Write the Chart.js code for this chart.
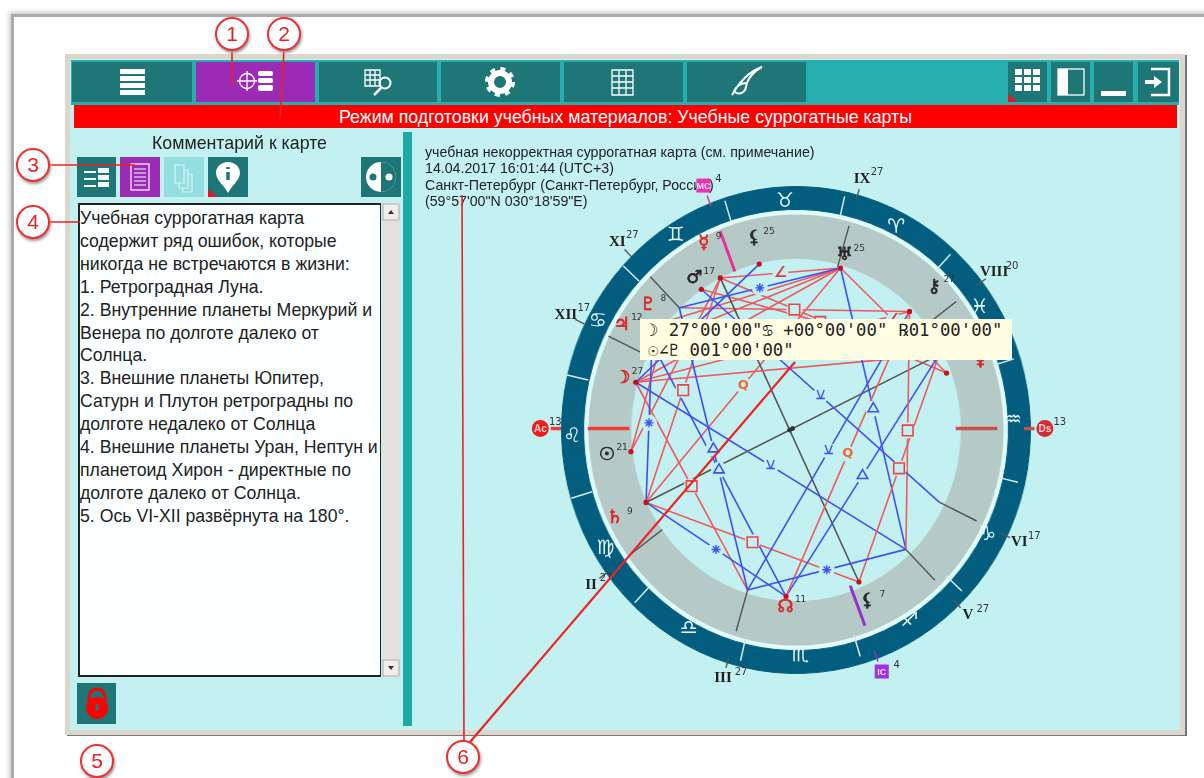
<!DOCTYPE html>
<html lang="ru">
<head>
<meta charset="utf-8">
<title>Учебные суррогатные карты</title>
<script src="https://cdn.jsdelivr.net/npm/chart.js@4"></script>
<style>
  html, body { margin: 0; padding: 0; background: #fff; overflow: hidden; }
  #page { position: relative; width: 1204px; height: 778px; overflow: hidden; filter: blur(0.6px); font-family: "Liberation Sans", sans-serif; color: #222; }
  #page > * { position: absolute; }
  #frame { left: 11px; top: 14px; width: 1300px; height: 900px; border-left: 3px solid #aaa; border-top: 3px solid #aaa; box-shadow: -2px -2px 5px #ccc; }
  #window { left: 65px; top: 54px; width: 1110px; height: 671px; border: 5px solid #dcd6cd; background: #c3f1f1; box-shadow: 2px 1px 0 #777; }
  #chrome, #callouts { left: 0; top: 0; }
  #banner { left: 74px; top: 105px; width: 1103px; height: 23px; background: #ff0000; color: #fff; text-align: center; font-size: 17.8px; line-height: 24px; white-space: nowrap; }
  #title { left: 77px; top: 134px; width: 325px; text-align: center; font-size: 17.8px; line-height: 18px; }
  #note { left: 78px; top: 203px; width: 300px; height: 468px; background: #fbffff; border: 1px solid #222; border-width: 2px 1px 2px 2px; font-size: 17.7px; line-height: 22.9px; padding: 2px 0 0 0; white-space: nowrap; }
  #meta { left: 425px; top: 144px; font-size: 14.2px; line-height: 16.4px; white-space: nowrap; }
  #wheel { left: 551.5px; top: 185.5px; width: 488px; height: 488px; transform: scaleX(0.963); }
  #overlay { left: 0; top: 0; }
  #hint { left: 640px; top: 319px; width: 372px; height: 41px; background: #fffde2; font-family: "DejaVu Sans Mono", monospace; font-size: 17.3px; line-height: 20px; padding: 1px 0 0 8px; box-sizing: border-box; white-space: pre; color: #222; }
  .num { width: 30px; height: 30px; border: 2px solid #f03030; border-radius: 50%; background: #fff; color: #e82020; text-align: center; font-size: 21px; line-height: 30px; box-shadow: 1px 2px 3px #999; }
</style>
</head>
<body>
<div id="page">
  <div id="frame"></div>
  <div id="window"></div>
  <svg id="chrome" width="1204" height="778">
    <rect x="71" y="60" width="1108" height="45" fill="#27aeae"/>
    <g fill="#1e7676">
      <rect x="72" y="62" width="120" height="40"/><rect x="319" y="62" width="118" height="40"/>
      <rect x="441" y="62" width="119" height="40"/><rect x="564" y="62" width="119" height="40"/><rect x="687" y="62" width="119" height="40"/>
      <rect x="1008" y="62" width="39" height="40"/><rect x="1051" y="62" width="39" height="40"/><rect x="1094" y="62" width="39" height="40"/><rect x="1138" y="62" width="41" height="40"/>
      <rect x="77" y="157" width="39" height="40"/><rect x="208" y="157" width="40" height="40"/><rect x="361" y="157" width="40" height="40"/><rect x="77" y="683" width="39" height="41"/>
    </g>
    <rect x="196" y="62" width="119" height="40" fill="#9b2bb5"/>
    <rect x="120" y="157" width="40" height="40" fill="#9b2bb5"/>
    <rect x="164" y="157" width="40" height="40" fill="#93dede"/>
    <rect x="403" y="132" width="9" height="594" fill="#1fa9a5"/>
    <g fill="#fff">
      <rect x="120" y="69" width="25" height="5"/><rect x="120" y="76" width="25" height="5"/><rect x="120" y="83" width="25" height="5"/><rect x="120" y="90" width="25" height="5"/>
      <rect x="258" y="71" width="15" height="5" rx="2"/><rect x="258" y="78" width="15" height="5" rx="2"/><rect x="258" y="85" width="15" height="6" rx="2"/>
    </g>
    <g fill="none" stroke="#fff" stroke-width="1.3">
      <circle cx="247" cy="81" r="7.5"/><path d="M237 81h20M247 71v20"/>
      <path d="M365 70h15v16h-15zM365 75h15M365 80h15M370 70v16M375 70v16"/>
      <circle cx="385" cy="83" r="5.5" stroke-width="2"/><path d="M381 88l-7 7" stroke-width="2.5"/>
      <path d="M612 70h21v25h-21zM612 76h21M612 82h21M612 88h21M619 70v25M626 70v25"/>
      <rect x="1058" y="69" width="26" height="26"/>
    </g>
    <circle cx="500" cy="82" r="9" fill="none" stroke="#fff" stroke-width="6"/>
    <circle cx="500" cy="82" r="13" fill="none" stroke="#fff" stroke-width="4" stroke-dasharray="5 5.2"/>
    <path d="M732 95c8-14 18-24 30-28c-8 4-15 12-16 20c-1 6-8 9-12 4c2-5 8-8 12-8" fill="none" stroke="#fff" stroke-width="2"/>
    <g fill="#fff">
      <rect x="1015" y="69" width="7" height="6"/><rect x="1024" y="69" width="7" height="6"/><rect x="1033" y="69" width="7" height="6"/>
      <rect x="1015" y="77" width="7" height="6"/><rect x="1024" y="77" width="7" height="6"/><rect x="1033" y="77" width="7" height="6"/>
      <rect x="1015" y="85" width="7" height="6"/><rect x="1024" y="85" width="7" height="6"/><rect x="1033" y="85" width="7" height="6"/>
      <rect x="1058" y="69" width="10" height="26"/>
      <rect x="1101" y="91" width="25" height="5"/>
      <path d="M1145 80h9v-4l8 6l-8 6v-4h-9z"/>
    </g>
    <path d="M1151 69h18v26h-18" fill="none" stroke="#fff" stroke-width="2.5"/>
    <path d="M1008 94l9 8h-9zM208 189l9 8h-9z" fill="#f01020"/>
    <g fill="#fff" opacity="0.95">
      <rect x="84" y="171" width="12" height="2"/><rect x="84" y="178" width="12" height="2"/><rect x="84" y="185" width="12" height="2"/>
      <rect x="98" y="168" width="11" height="5"/><rect x="98" y="175" width="11" height="5"/><rect x="98" y="182" width="11" height="5"/>
    </g>
    <g fill="none" stroke="#fff" stroke-width="1.2">
      <rect x="131" y="164" width="18" height="26"/><path d="M134 169h12M134 173h12M134 177h12M134 181h12M134 185h12"/>
      <path d="M175 165h9v18h-9zM184 170h4v18h-9v-5M188 174h4v18h-9v-4" stroke="#d9f5f5"/>
    </g>
    <path d="M228 162c-7 0-12 5-12 11c0 7 8 12 12 20c4-8 12-13 12-20c0-6-5-11-12-11z" fill="#fff"/>
    <path d="M228 167v2M228 172v8" stroke="#1e7676" stroke-width="3.5" fill="none"/>
    <circle cx="381" cy="177" r="15" fill="#fff"/>
    <path d="M381 162a15 15 0 0 1 0 30z" fill="#1e7676"/>
    <circle cx="373" cy="177" r="3.5" fill="#1e7676"/><circle cx="389" cy="177" r="3.5" fill="#fff"/>
    <path d="M89 703v-6a8 8 0 0 1 16 0v6" fill="none" stroke="#ff0000" stroke-width="3"/>
    <circle cx="97" cy="708" r="11" fill="#ff0000"/>
    <path d="M97 704v7" stroke="#1e7676" stroke-width="3"/>
    <rect x="382" y="203" width="18" height="475" fill="#e4e2dc"/>
    <rect x="383" y="204" width="16" height="16" fill="#efeeea" stroke="#888" stroke-width="0.6"/>
    <rect x="383" y="660" width="16" height="16" fill="#efeeea" stroke="#888" stroke-width="0.6"/>
    <path d="M388 214l3-4l3 4zM388 666l3 4l3-4z" fill="#333"/>
  </svg>
  <div id="banner">Режим подготовки учебных материалов: Учебные суррогатные карты</div>
  <div id="title">Комментарий к карте</div>
  <div id="note">Учебная суррогатная карта<br>содержит ряд ошибок, которые<br>никогда не встречаются в жизни:<br>1. Ретроградная Луна.<br>2. Внутренние планеты Меркурий и<br>Венера по долготе далеко от<br>Солнца.<br>3. Внешние планеты Юпитер,<br>Сатурн и Плутон ретроградны по<br>долготе недалеко от Солнца<br>4. Внешние планеты Уран, Нептун и<br>планетоид Хирон - директные по<br>долготе далеко от Солнца.<br>5. Ось VI-XII развёрнута на 180°.</div>
  <div id="meta">учебная некорректная суррогатная карта (см. примечание)<br>14.04.2017 16:01:44 (UTC+3)<br>Санкт-Петербург (Санкт-Петербург, Россия)<br>(59°57'00"N 030°18'59"E)</div>
  <div id="wheel"><canvas id="wheelRings" width="488" height="488"></canvas></div>
  <canvas id="overlay" width="1204" height="778"></canvas>
  <div id="hint">☽ 27°00'00"♋︎ +00°00'00" ℞01°00'00"
☉∠♇ 001°00'00"</div>
  <svg id="callouts" width="1204" height="778">
    <g fill="none" stroke="#ee2222" stroke-width="1.6">
      <path d="M232 50L232 86M284 50L280 118M50 165L135 165M50 222L80 222M464 742L462 195"/>
      <path d="M470 742L795 362" stroke-width="2.2"/>
    </g>
  </svg>
  <div class="num" style="left:215px;top:17px">1</div>
  <div class="num" style="left:267px;top:17px">2</div>
  <div class="num" style="left:16px;top:148px">3</div>
  <div class="num" style="left:16px;top:205px">4</div>
  <div class="num" style="left:80px;top:744px">5</div>
  <div class="num" style="left:446px;top:740px">6</div>
</div>

<script>
// Значения. Углы - экранные, градусы против часовой от востока
const signGlyphs = ["♈", "♉", "♊", "♋", "♌", "♍", "♎", "♏", "♐", "♑", "♒", "♓"];
const signSpans = [30, 30, 30, 30, 30, 30, 30, 30, 30, 30, 30, 30];
const ariesStartAngle = 47;

const cuspNames = ["Ac", "II", "III", "IC", "V", "VI", "Ds", "VIII", "IX", "MC", "XI", "XII"];
const cuspAngles = [180, 217, 254, 290.7, 314, 334, 0, 37, 74, 110.7, 134, 154];
const cuspDegrees = [13, 27, 27, 4, 27, 17, 13, 20, 27, 4, 27, 17];

const planetKeys = ["Mo", "Ju", "Pl", "Ma", "Me", "Li", "Ur", "Ch", "Ne", "Ve", "Su", "Sa", "No", "Ke"];
const planetAngles = [164, 149.5, 140.3, 124, 116.3, 101.8, 72.9, 44.2, 26.1, 19.3, 187.9, 206.1, 267.7, 294];
const planetGlyphs = ["☽", "♃", "♇", "♂", "☿", "⚸", "♅", "⚷", "♆", "♀", "☉", "♄", "☊", "⚸"];
const planetDegrees = ["27", "12", "8", "17", "9", "25", "25", "27", "", "", "21", "9", "11", "7"];
const planetDark = [false, false, false, true, false, true, true, true, true, false, true, false, false, true];
const glyphRings = [0.765, 0.856, 0.81, 0.76, 0.867, 0.814, 0.76, 0.853, 0.85, 0.86, 0.809, 0.855, 0.75, 0.795];

const aspectFrom = ["Me", "Me", "XI", "Ma", "Ur", "Ur", "Ur", "Ur", "Ur", "Mo", "Sa", "Sa", "Sa", "Me", "Mo", "Mo", "Su", "Me", "Sa", "Sa", "No", "III", "Mo", "Ur", "III", "No", "No", "V", "Ke", "V", "XI", "Li", "Ma"];
const aspectTo = ["Ur", "Ve", "Ch", "Ne", "Mo", "Ju", "Pl", "Ve", "Sa", "III", "Ke", "Me", "Ne", "Ke", "Ne", "Ch", "Pl", "Su", "Ju", "No", "Ju", "XI", "V", "V", "Ch", "Ne", "Ch", "Ch", "Ne", "III", "Ur", "Mo", "VI"];
const aspectKinds = ["semi", "square", "square", "square", "red", "red", "red", "semi", "quintile", "square", "square", "square", "opposition", "opposition", "red", "red", "red", "red", "sextile", "sextile", "trine", "trine", "quincunx", "trine", "quincunx", "trine", "quintile", "square", "square", "sextile", "sextile", "blue", "quincunx"];

const PANEL = "#c3f1f1";
const RED = "#ee5a5e";
const BLUE = "#3f50f2";
const DOT_RING = 0.705;

// центр и радиус колеса на странице (картинка немного сжата по ширине)
const CX = 795.5, CY = 429.5, RX = 235, RY = 244;

function polar(angle, ring) {
  const a = (angle * Math.PI) / 180;
  return { x: ring * Math.cos(a), y: ring * Math.sin(a) };
}

function anchorAngle(key) {
  const p = planetKeys.indexOf(key);
  if (p >= 0) return planetAngles[p];
  return cuspAngles[cuspNames.indexOf(key)];
}

function aspectColor(kind) {
  if (kind === "opposition") return "#555";
  if (["trine", "sextile", "quincunx", "blue"].includes(kind)) return BLUE;
  return RED;
}

function aspectMid(i) {
  const a = polar(anchorAngle(aspectFrom[i]), DOT_RING);
  const b = polar(anchorAngle(aspectTo[i]), DOT_RING);
  return { x: (a.x + b.x) / 2, y: (a.y + b.y) / 2 };
}

function midsOf(kinds) {
  return aspectKinds.flatMap((k, i) => (kinds.includes(k) ? [aspectMid(i)] : []));
}

function spoke(angle, from, to, color, width) {
  return {
    data: [polar(angle, from), polar(angle, to)],
    showLine: true,
    borderColor: color,
    borderWidth: width,
    pointRadius: 0,
  };
}

function marks(data, style, radius, stroke, fill, width) {
  return {
    data,
    pointStyle: style,
    pointRadius: radius,
    pointBorderColor: stroke,
    pointBackgroundColor: fill,
    pointBorderWidth: width,
    showLine: false,
  };
}

function cuspStyle(name) {
  if (name === "Ac") return { color: "#f23c3c", width: 3.5 };
  if (name === "Ds") return { color: "#c95050", width: 3.5 };
  if (name === "MC") return { color: "#e6309c", width: 3 };
  if (name === "IC") return { color: "#9530d0", width: 3 };
  return { color: "#555", width: 1.4 };
}

function renderRings() {
  const zodiacStart = ariesStartAngle + 360;
  const houseSpans = cuspAngles.map((c, i) => (c - cuspAngles[(i + 11) % 12] + 360) % 360).reverse();
  new Chart(document.getElementById("wheelRings"), {
    type: "doughnut",
    data: {
      labels: signGlyphs,
      datasets: [
        { data: signSpans, backgroundColor: "#035d7e", borderColor: "#035d7e", borderWidth: 1, weight: 23, rotation: 90 - zodiacStart },
        { data: [1], backgroundColor: "#e0fbfb", borderWidth: 0, weight: 5 },
        { data: houseSpans, backgroundColor: "#b5cac7", borderColor: "#b5cac7", borderWidth: 1, weight: 44, rotation: 90 - cuspAngles[11] },
      ],
    },
    options: {
      responsive: false,
      animation: false,
      cutout: "70.5%",
      plugins: { legend: { display: false }, tooltip: { enabled: false } },
    },
  });
}

function drawText(ctx, text, x, y, font, color, bolder) {
  ctx.font = font;
  ctx.fillStyle = color;
  ctx.textAlign = "center";
  ctx.textBaseline = "middle";
  ctx.fillText(text, x, y);
  if (bolder) {
    ctx.strokeStyle = color;
    ctx.lineWidth = bolder;
    ctx.strokeText(text, x, y);
  }
}

function drawBadge(ctx, name, x, y) {
  if (name === "Ac" || name === "Ds") {
    ctx.fillStyle = name === "Ac" ? "#f01c1c" : "#d02c34";
    ctx.beginPath();
    ctx.arc(x, y, 8.5, 0, 2 * Math.PI);
    ctx.fill();
    drawText(ctx, name, x, y + 1, "bold 10px 'Liberation Sans'", "#ffd0d0");
  } else if (name === "MC" || name === "IC") {
    ctx.fillStyle = name === "MC" ? "#f030b0" : "#a030e0";
    ctx.fillRect(x - 7, y - 7, 14, 14);
    drawText(ctx, name, x, y + 1, "bold 9px 'Liberation Sans'", "#f4e0ff");
  } else {
    drawText(ctx, name, x, y, "bold 15px 'Liberation Serif'", "#222");
  }
}

const wheelText = {
  id: "wheelText",
  afterDatasetsDraw(chart) {
    const ctx = chart.ctx;
    const sx = chart.scales.x;
    const sy = chart.scales.y;
    const at = (angle, ring) => {
      const p = polar(angle, ring);
      return { x: sx.getPixelForValue(p.x), y: sy.getPixelForValue(p.y) };
    };
    ctx.save();

    signGlyphs.forEach((g, i) => {
      const p = at(ariesStartAngle + 15 + 30 * i, 0.953);
      drawText(ctx, g + "\uFE0E", p.x, p.y, "bold 20px 'DejaVu Sans'", "#e4f6f8");
    });

    cuspNames.forEach((name, i) => {
      const p = at(cuspAngles[i], 1.09);
      drawBadge(ctx, name, p.x, p.y);
      const w = name.length > 2 ? 12 : 9;
      drawText(ctx, String(cuspDegrees[i]), p.x + w + 6, p.y - 6, "10px 'DejaVu Sans'", "#333");
    });

    planetGlyphs.forEach((g, i) => {
      const p = at(planetAngles[i], glyphRings[i]);
      const color = planetDark[i] ? "#2a2a2a" : "#d8282c";
      drawText(ctx, g + "\uFE0E", p.x, p.y, "bold 18px 'DejaVu Sans'", color, 0.7);
      if (planetDegrees[i]) drawText(ctx, planetDegrees[i], p.x + 15, p.y - 7, "9px 'DejaVu Sans'", "#333");
    });

    aspectKinds.forEach((kind, i) => {
      const m = aspectMid(i);
      const x = sx.getPixelForValue(m.x);
      const y = sy.getPixelForValue(m.y);
      if (kind === "semi") drawText(ctx, "∠", x, y, "bold 15px 'DejaVu Sans'", "#e8343a");
      if (kind === "quintile") drawText(ctx, "Q", x, y, "bold 13px 'DejaVu Sans'", "#ee6a30");
      if (kind === "quincunx") drawText(ctx, "⚺", x, y, "bold 14px 'DejaVu Sans'", BLUE);
    });
    ctx.restore();
  },
};

function renderOverlay() {
  const datasets = [];

  signSpans.forEach((_, i) => {
    datasets.push(spoke(ariesStartAngle + 30 * i, 0.906, 1.0, "#cfeaf0", 1.5));
  });

  cuspNames.forEach((name, i) => {
    const s = cuspStyle(name);
    datasets.push(spoke(cuspAngles[i], DOT_RING, 0.885, s.color, s.width));
    datasets.push(spoke(cuspAngles[i], 1.0, 1.045, s.color, name === "Ac" || name === "Ds" ? 3.5 : 1.4));
  });

  aspectKinds.forEach((kind, i) => {
    const a = polar(anchorAngle(aspectFrom[i]), DOT_RING);
    const b = polar(anchorAngle(aspectTo[i]), DOT_RING);
    datasets.push({
      data: [a, b],
      showLine: true,
      borderColor: aspectColor(kind),
      borderWidth: 1.6,
      pointRadius: 0,
    });
  });

  const marked = ["square", "trine", "sextile", "quincunx", "quintile", "semi"];
  datasets.push(marks(midsOf(marked), "circle", 8, PANEL, PANEL, 0));
  datasets.push(marks(midsOf(["square"]), "rect", 7.5, "#ee4448", PANEL, 1.6));
  datasets.push(marks(midsOf(["trine"]), "triangle", 6, BLUE, PANEL, 1.6));
  datasets.push(marks(midsOf(["sextile"]), "star", 4.5, BLUE, BLUE, 1.4));
  datasets.push(marks(midsOf(["opposition"]), "circle", 2, "#333", "#333", 1));
  datasets.push(marks(planetAngles.map((a) => polar(a, DOT_RING)), "circle", 2.6, "#c5101c", "#c5101c", 0));

  // Chart.js рисует первый набор поверх остальных, поэтому порядок обратный
  datasets.reverse();

  new Chart(document.getElementById("overlay"), {
    type: "scatter",
    data: { datasets },
    plugins: [wheelText],
    options: {
      responsive: false,
      animation: false,
      layout: { padding: 0 },
      scales: {
        x: { type: "linear", display: false, min: -CX / RX, max: (1204 - CX) / RX },
        y: { type: "linear", display: false, min: (CY - 778) / RY, max: CY / RY },
      },
      plugins: { legend: { display: false }, tooltip: { enabled: false } },
    },
  });
}

renderRings();
renderOverlay();
</script>
</body>
</html>
